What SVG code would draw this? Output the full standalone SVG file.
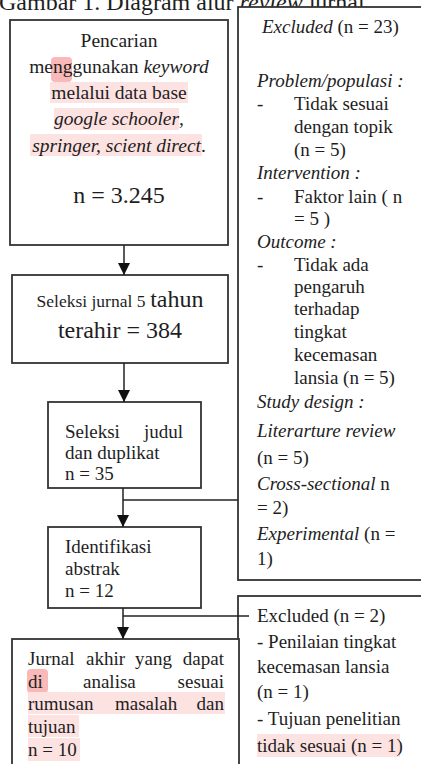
<svg xmlns="http://www.w3.org/2000/svg" width="421" height="764" viewBox="0 0 421 764">
<style>
text{font-family:"Liberation Serif","Times New Roman",serif;fill:#1e1e1e;font-size:19px}
.box{fill:#fff;stroke:#333;stroke-width:1.8}
.hl{fill:#fde2e2}
.hd{fill:#f9b9b9}
.big{font-size:24px}
.i{font-style:italic}
.c{text-anchor:middle}
.conn{stroke:#222;stroke-width:1.5;fill:none}
</style>
<defs>
<marker id="ah" viewBox="0 0 12 12" refX="12" refY="6" markerWidth="12" markerHeight="12" markerUnits="userSpaceOnUse" orient="auto">
<path d="M0,0 L12,6 L0,12 z" fill="#111"/>
</marker>
</defs>
<rect width="421" height="764" fill="#fff"/>
<text x="-1" y="9.5" style="font-size:24px">Gambar 1. Diagram alur <tspan class="i">review</tspan> jurnal</text>

<g id="search">
<rect class="box" x="10" y="20" width="218" height="225"/>
<rect class="hd" x="51" y="57" width="21" height="25" rx="4"/>
<rect class="hl" x="50" y="82" width="138" height="21"/>
<rect class="hl" x="54" y="108" width="125" height="22"/>
<rect class="hl" x="30" y="134" width="172" height="22"/>
<text class="c" x="119" y="47" style="font-size:19.5px">Pencarian</text>
<text class="c" x="119" y="73" style="font-size:19.5px">menggunakan <tspan class="i">keyword</tspan></text>
<text class="c" x="119" y="99" style="font-size:19.5px">melalui data base</text>
<text class="c" x="119" y="125" style="font-size:19.5px"><tspan class="i">google schooler</tspan>,</text>
<text class="c" x="119" y="152" style="font-size:19.5px"><tspan class="i">springer, scient direct</tspan>.</text>
<text class="c big" x="119" y="203">n = 3.245</text>
</g>

<g id="excluded1">
<rect class="box" x="238" y="7" width="200" height="573"/>
<text x="262" y="33"><tspan class="i">Excluded</tspan> (n = 23)</text>
<text class="i" x="257" y="87">Problem/populasi :</text>
<text x="257" y="110">-</text><text x="294" y="110">Tidak sesuai</text>
<text x="294" y="133">dengan topik</text>
<text x="294" y="156">(n = 5)</text>
<text class="i" x="257" y="179">Intervention :</text>
<text x="257" y="203">-</text><text x="294" y="203">Faktor lain ( n</text>
<text x="294" y="225">= 5 )</text>
<text class="i" x="257" y="248">Outcome :</text>
<text x="257" y="271">-</text><text x="294" y="271">Tidak ada</text>
<text x="294" y="293">pengaruh</text>
<text x="294" y="315">terhadap</text>
<text x="294" y="338">tingkat</text>
<text x="294" y="361">kecemasan</text>
<text x="294" y="384">lansia (n = 5)</text>
<text class="i" x="257" y="408">Study design :</text>
<text class="i" x="257" y="437">Literarture review</text>
<text x="257" y="464">(n = 5)</text>
<text x="257" y="490"><tspan class="i">Cross-sectional</tspan>  n</text>
<text x="257" y="514">= 2)</text>
<text x="257" y="540"><tspan class="i">Experimental</tspan> (n =</text>
<text x="257" y="565">1)</text>
</g>

<g id="select5">
<rect class="box" x="12" y="275" width="216" height="88"/>
<text class="c" x="120" y="307"><tspan style="font-size:17.5px">Seleksi jurnal 5</tspan> <tspan class="big">tahun</tspan></text>
<text class="c big" x="120" y="338">terahir = 384</text>
</g>

<g id="title">
<rect class="box" x="48" y="402" width="153" height="86"/>
<text x="65" y="438">Seleksi</text><text x="183" y="438" text-anchor="end">judul</text>
<text x="65" y="459">dan duplikat</text>
<text x="65" y="480">n = 35</text>
</g>

<g id="abstract">
<rect class="box" x="48" y="527" width="153" height="81"/>
<text x="65" y="553">Identifikasi</text>
<text x="65" y="575">abstrak</text>
<text x="65" y="597">n = 12</text>
</g>

<g id="excluded2">
<rect class="box" x="238" y="596" width="200" height="200"/>
<rect class="hl" x="257" y="734" width="143" height="23"/>
<text x="257" y="622">Excluded (n = 2)</text>
<text x="257" y="648">- Penilaian tingkat</text>
<text x="257" y="673">kecemasan lansia</text>
<text x="257" y="698">(n = 1)</text>
<text x="257" y="725">- Tujuan penelitian</text>
<text x="257" y="752">tidak sesuai (n = 1)</text>
</g>

<g id="final">
<rect class="box" x="12" y="639" width="227" height="150"/>
<rect class="hd" x="27" y="669" width="21" height="24" rx="4"/>
<rect class="hl" x="28" y="692" width="197" height="22"/>
<rect class="hl" x="28" y="715" width="51" height="22"/>
<rect class="hl" x="28" y="738" width="52" height="23"/>
<text x="28" y="665">Jurnal</text><text x="86" y="665">akhir</text><text x="135" y="665">yang</text><text x="224" y="665" text-anchor="end">dapat</text>
<text x="28" y="688">di</text><text x="83" y="688">analisa</text><text x="224" y="688" text-anchor="end">sesuai</text>
<text x="28" y="710">rumusan</text><text x="115" y="710">masalah</text><text x="224" y="710" text-anchor="end">dan</text>
<text x="28" y="733">tujuan</text>
<text x="28" y="756">n = 10</text>
</g>

<g id="connectors">
<line class="conn" x1="124" y1="245" x2="124" y2="275" marker-end="url(#ah)"/>
<line class="conn" x1="124" y1="363" x2="124" y2="402" marker-end="url(#ah)"/>
<line class="conn" x1="123" y1="488" x2="123" y2="527" marker-end="url(#ah)"/>
<line class="conn" x1="123" y1="500" x2="238" y2="500"/>
<line class="conn" x1="123" y1="608" x2="123" y2="639" marker-end="url(#ah)"/>
<line class="conn" x1="123" y1="616" x2="249" y2="616"/>
</g>
</svg>
